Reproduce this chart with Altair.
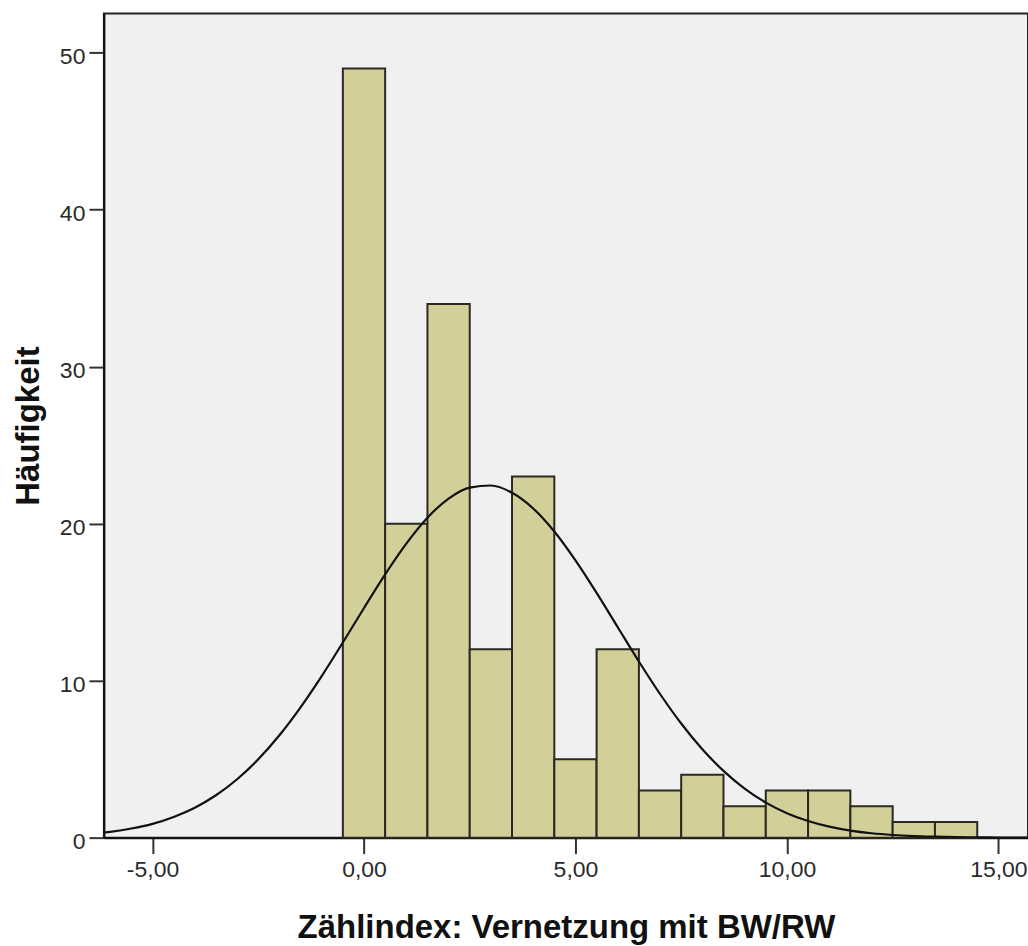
import altair as alt
import pandas as pd

# Histogram bins (centres at integer values, width 1)
bin_centers = [0, 1, 2, 3, 4, 5, 6, 7, 8, 9, 10, 11, 12, 13, 14]
counts = [49, 20, 34, 12, 23, 5, 12, 3, 4, 2, 3, 3, 2, 1, 1]

# Normal curve, values
curve_x = [-6.15, -6.0, -5.5, -5.0, -4.5, -4.0, -3.5, -3.0, -2.5, -2.0, -1.5, -1.0, -0.5,
           0.0, 0.5, 1.0, 1.5, 2.0, 2.5, 3.0, 3.5, 4.0, 4.5, 5.0, 5.5, 6.0, 6.5, 7.0,
           7.5, 8.0, 8.5, 9.0, 9.5, 10.0, 10.5, 11.0, 11.5, 12.0, 12.5, 13.0, 13.5,
           14.0, 14.5, 15.0, 15.7]
curve_y = [0.32, 0.37, 0.58, 0.88, 1.32, 1.91, 2.70, 3.72, 4.99, 6.52, 8.30, 10.29, 12.43,
           14.63, 16.77, 18.73, 20.38, 21.60, 22.30, 22.43, 21.97, 20.97, 19.50, 17.66,
           15.59, 13.40, 11.22, 9.15, 7.27, 5.63, 4.25, 3.12, 2.23, 1.56, 1.06, 0.70,
           0.45, 0.28, 0.17, 0.10, 0.06, 0.03, 0.02, 0.01, 0.0]

bars = pd.DataFrame({
    "start": [c - 0.5 for c in bin_centers],
    "end": [c + 0.5 for c in bin_centers],
    "count": counts,
})
curve = pd.DataFrame({"x": curve_x, "y": curve_y})

XMIN, XMAX = -6.15, 15.7
YMAX = 52.5
FONT = "Liberation Sans"

x_scale = alt.Scale(domain=[XMIN, XMAX], nice=False, zero=False)
y_scale = alt.Scale(domain=[0, YMAX], nice=False)

x_axis = alt.Axis(
    title="Zählindex: Vernetzung mit BW/RW",
    values=[-5, 0, 5, 10, 15],
    labelExpr="(datum.value < 0 ? '-' : '') + replace(format(abs(datum.value), '.2f'), '.', ',')",
    grid=False, ticks=True, domainColor="#111", domainWidth=2, tickColor="#333", tickWidth=2,
    tickSize=16, labelFontSize=23, labelColor="#2a2a2a", labelFont=FONT, labelPadding=5,
    titleFont=FONT, titleFontSize=33, titleFontWeight="bold", titleColor="#111",
    titlePadding=30, labelFlush=False,
)
y_axis = alt.Axis(
    title="Häufigkeit",
    values=[0, 10, 20, 30, 40, 50],
    grid=False, ticks=True, domainColor="#111", domainWidth=2, tickColor="#333", tickWidth=2,
    tickSize=15, labelFontSize=23, labelColor="#2a2a2a", labelFont=FONT, labelPadding=4,
    labelOffset=4,
    titleFont=FONT, titleFontSize=33, titleFontWeight="bold", titleColor="#111",
    titlePadding=14,
)

bar_layer = alt.Chart(bars).mark_rect(
    color="#d3cf98", stroke="#2a2a22", strokeWidth=2
).encode(
    x=alt.X("start:Q", scale=x_scale, axis=x_axis),
    x2="end:Q",
    y=alt.Y("count:Q", scale=y_scale, axis=y_axis),
    y2=alt.datum(0),
)

line_layer = alt.Chart(curve).mark_line(
    color="#111", strokeWidth=2.2, clip=True, interpolate="monotone"
).encode(
    x=alt.X("x:Q", scale=x_scale, axis=x_axis),
    y=alt.Y("y:Q", scale=y_scale, axis=y_axis),
)

chart = alt.layer(bar_layer, line_layer).properties(
    width=925, height=825,
    autosize=alt.AutoSizeParams(type="none"),
    padding={"left": 104, "top": 13, "right": 0, "bottom": 108},
    background="white",
).configure_view(
    fill="#f0f0f0", stroke="#222", strokeWidth=2
)

chart.save("out.html", embed_options={"renderer": "svg", "actions": False})
